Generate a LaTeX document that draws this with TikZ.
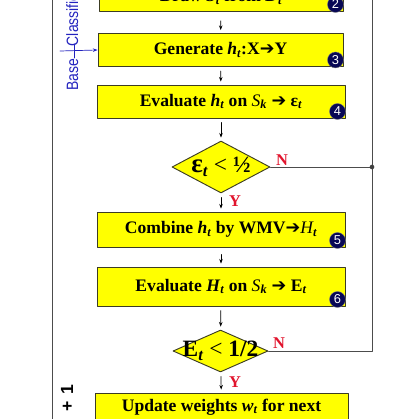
\documentclass[tikz,border=0pt]{standalone}
\usepackage{fontspec}
\setmainfont{Liberation Serif}
\setsansfont{Liberation Sans}
\newfontfamily\symfont{DejaVu Sans}
\newfontfamily\basefont[FakeStretch=0.85]{Liberation Sans}
\usetikzlibrary{shapes.geometric,arrows.meta,calc}
\definecolor{boxyellow}{RGB}{255,255,0}
\definecolor{boxedge}{RGB}{60,60,35}
\definecolor{numblue}{RGB}{8,8,85}
\definecolor{baseblue}{RGB}{35,35,190}
\definecolor{ynred}{RGB}{225,20,45}
\newcommand{\thickarrow}{{\symfont\bfseries ➔}}
\newcommand{\tsub}[1]{\textsubscript{\itshape #1}}
\begin{document}
\begin{tikzpicture}[x=0.03cm, y=-0.03cm, line join=round, line cap=round, >={Stealth[length=4pt,width=3pt]},
    box/.style={draw=boxedge, fill=boxyellow, line width=0.8pt, inner sep=0pt,
        font=\fontsize{15}{17}\selectfont\bfseries},
    decision/.style={diamond, draw=boxedge, fill=boxyellow, line width=0.8pt, inner sep=0pt},
    dtext/.style={font=\fontsize{20}{22}\selectfont\bfseries, inner sep=0pt},
    numcirc/.style={circle, fill=numblue, draw=black!50, line width=0.3pt, text=white,
        inner sep=0pt, minimum size=0.48cm, font=\sffamily\fontsize{11}{11}\selectfont},
    yn/.style={text=ynred, font=\fontsize{14}{14}\selectfont\bfseries, inner sep=0pt},
    flow/.style={->, line width=0.6pt, shorten <=3.5pt, shorten >=2.5pt},
    loopline/.style={draw=black!70, line width=0.7pt}]
    \def\u{0.03cm}
    \useasboundingbox (0,0) rectangle (419,419);
    \clip (0,0) rectangle (419,419);
    \path
    (52,-5) coordinate (ltop)
    (52,425) coordinate (lbot)
    (372,-5) coordinate (rtop)
    (372,167) coordinate (rjoin)
    (372,351) coordinate (rcorner)
    (60,51) coordinate (bstart)
    (74,44) coordinate (bartop)
    (74,58) coordinate (barbot)
    ;
    % boxes
    \node[box, minimum width=244*\u, minimum height=28*\u] (b2) at (221,-3) {Draw \textit{S}\tsub{t} from \textit{D}\tsub{t}};
    \node[box, minimum width=245*\u, minimum height=33*\u] (b3) at (220.5,50) {Generate \textit{h}\tsub{t}:X\thickarrow Y};
    \node[box, minimum width=248*\u, minimum height=33*\u] (b4) at (221,101.5) {Evaluate \textit{h}\tsub{t} on {\mdseries\itshape S}\tsub{k} \thickarrow{} ε\tsub{t}};
    \node[decision, minimum width=98*\u, minimum height=52*\u,
        label={[dtext]center:{\fontsize{23}{23}\selectfont ε}\tsub{t} {\mdseries<} ½}] (d1) at (221,167) {};
    \node[box, minimum width=248*\u, minimum height=35*\u] (b5) at (221,229.5) {Combine \textit{h}\tsub{t} by WMV\thickarrow{\mdseries\itshape H}\tsub{t}};
    \node[box, minimum width=248*\u, minimum height=39*\u] (b6) at (221,286.5) {Evaluate \textit{H}\tsub{t} on {\mdseries\itshape S}\tsub{k} \thickarrow{} E\tsub{t}};
    \node[decision, minimum width=95*\u, minimum height=42*\u,
        label={[dtext]center:E\tsub{t} {\mdseries<} 1/2}] (d2) at (220.5,351) {};
    \node[box, minimum width=253*\u, minimum height=28*\u] (b7) at (221.5,407) {Update weights \textit{w}\tsub{t} for next};
    % step numbers
    \node[numcirc] (n2) at ($(b2.south east)+(-8,-7)$) {2};
    \node[numcirc] (n3) at ($(b3.south east)+(-8,-7)$) {3};
    \node[numcirc] (n4) at ($(b4.south east)+(-8,-7)$) {4};
    \node[numcirc] (n5) at ($(b5.south east)+(-8,-7)$) {5};
    \node[numcirc] (n6) at ($(b6.south east)+(-8,-7)$) {6};
    % flow
    \draw[flow, shorten <=8pt] (b2) -- (b3);
    \draw[flow] (b3) -- (b4);
    \draw[flow] (b4) -- (d1);
    \draw[flow] (d1) -- (b5);
    \draw[flow, shorten <=6pt] (b5) -- (b6);
    \draw[flow] (b6) -- (d2);
    \draw[flow] (d2) -- (b7);
    \node[yn] (y1) at (235,201) {Y};
    \node[yn] (nn1) at (282,160) {N};
    \node[yn] (y2) at (235,382) {Y};
    \node[yn] (nn2) at (279,343) {N};
    % loop lines
    \draw[loopline] (ltop) -- (lbot);
    \draw[loopline] (rtop) -- (rcorner) -- (d2.east);
    \draw[loopline] (d1.east) -- (rjoin);
    \fill[black!75] (rjoin) circle[radius=2pt];
    % base classifier
    \node[rotate=90, anchor=base west, text=baseblue, inner sep=0pt,
        font=\basefont\fontsize{14}{14}\selectfont] (base) at (78,91) {Base\hspace{11pt}Classifier};
    \draw[baseblue, line width=0.6pt] (bartop) -- (barbot);
    \draw[->, baseblue, line width=0.6pt] (bstart) -- (b3.west);
    \node[rotate=90, anchor=base east, inner sep=0pt,
        font=\sffamily\bfseries\fontsize{15}{15}\selectfont] (tinc) at (73,384) {+\hspace{6pt}1};
\end{tikzpicture}
\end{document}
